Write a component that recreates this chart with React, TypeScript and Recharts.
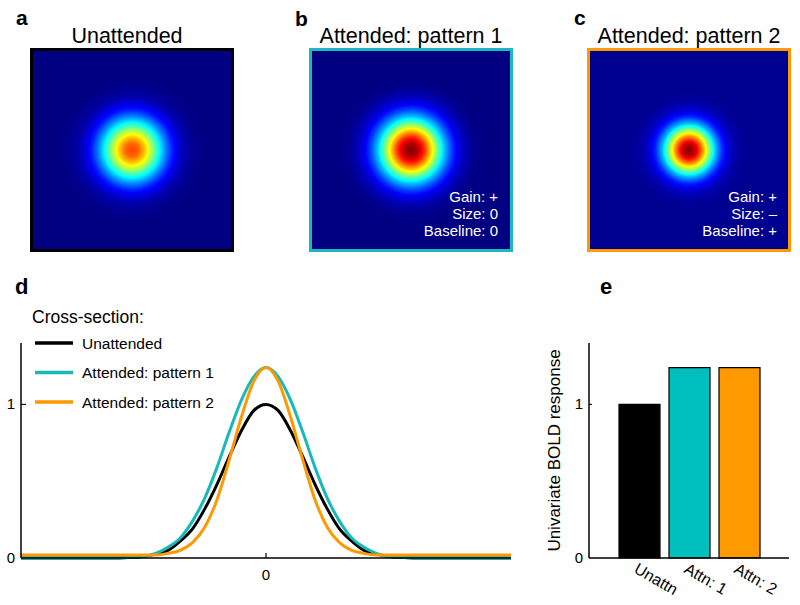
import {
  Bar,
  BarChart,
  Cell,
  ComposedChart,
  Label,
  Legend,
  Line,
  LineChart,
  ReferenceArea,
  XAxis,
  YAxis,
} from 'recharts'

const FONT = '"Liberation Sans", Arial, Helvetica, sans-serif'

// cross-section positions (arbitrary units, 0 = centre of the blob)
const crossX = [-10, -6, -5.5, -5, -4.5, -4, -3.5, -3, -2.5, -2, -1.5, -1, -0.5, 0, 0.5, 1, 1.5, 2, 2.5, 3, 3.5, 4, 4.5, 5, 5.5, 6, 10]
const unattended = [0, 0, 0.004, 0.01, 0.025, 0.05, 0.11, 0.19, 0.32, 0.48, 0.66, 0.83, 0.96, 1.0, 0.96, 0.83, 0.66, 0.48, 0.32, 0.19, 0.11, 0.05, 0.025, 0.01, 0.004, 0, 0]
const pattern1 = [0, 0, 0.005, 0.01, 0.03, 0.07, 0.13, 0.24, 0.39, 0.59, 0.82, 1.03, 1.18, 1.24, 1.18, 1.03, 0.82, 0.59, 0.39, 0.24, 0.13, 0.07, 0.03, 0.01, 0.005, 0, 0]
const pattern2 = [0.02, 0.02, 0.02, 0.02, 0.02, 0.03, 0.05, 0.1, 0.2, 0.38, 0.64, 0.92, 1.15, 1.24, 1.15, 0.92, 0.64, 0.38, 0.2, 0.1, 0.05, 0.03, 0.02, 0.02, 0.02, 0.02, 0.02]

const seriesNames = ['Unattended', 'Attended: pattern 1', 'Attended: pattern 2']
const seriesColors = ['#000000', '#17b9b9', '#ff9900']

const barNames = ['Unattn', 'Attn: 1', 'Attn: 2']
const barValues = [1.0, 1.24, 1.24]
const barColors = ['#000000', '#00bfbf', '#ff9900']

const yTicks = [0, 1]
const xTicks = [0]

const crossRows = crossX.map((x, i) => ({
  x,
  unattended: unattended[i],
  pattern1: pattern1[i],
  pattern2: pattern2[i],
}))

const barRows = barNames.map((name, i) => ({ name, value: barValues[i] }))

// heat-map half width, in the same units as crossX
const HALF = 7.5
const CMAX = 1.24

function jet(t: number): string {
  const c = (v: number) => Math.round(255 * Math.max(0, Math.min(1, v)))
  const r = c(Math.min(4 * t - 1.5, -4 * t + 4.5))
  const g = c(Math.min(4 * t - 0.5, -4 * t + 3.5))
  const b = c(Math.min(4 * t + 0.5, -4 * t + 2.5))
  return `rgb(${r},${g},${b})`
}

function valueAt(vals: number[], r: number): number {
  for (let i = 0; i < crossX.length - 1; i++) {
    const a = crossX[i]
    const b = crossX[i + 1]
    if (r >= a && r <= b) {
      const f = (r - a) / (b - a)
      return vals[i] + f * (vals[i + 1] - vals[i])
    }
  }
  return vals[vals.length - 1]
}

function blobStops(vals: number[]) {
  const n = 150
  const out: { offset: number; color: string }[] = []
  for (let i = 0; i <= n; i++) {
    out.push({ offset: i / n, color: jet(valueAt(vals, (HALF * i) / n) / CMAX) })
  }
  return out
}

function BlobPanel({ id, vals, border, left }: { id: string; vals: number[]; border: string; left: number }) {
  const stops = blobStops(vals)
  return (
    <div style={{ position: 'absolute', left, top: 44 }}>
      <ComposedChart
        width={212}
        height={212}
        data={crossRows}
        margin={{ top: 5.5, right: 5.5, bottom: 5.5, left: 5.5 }}
      >
        <defs>
          <radialGradient id={id} cx="50%" cy="50%" r="50%">
            {stops.map((s, i) => (
              <stop key={i} offset={s.offset} stopColor={s.color} />
            ))}
          </radialGradient>
        </defs>
        <XAxis type="number" dataKey="x" domain={[-HALF, HALF]} allowDataOverflow hide />
        <YAxis type="number" domain={[-HALF, HALF]} allowDataOverflow hide />
        <ReferenceArea
          x1={-HALF}
          x2={HALF}
          y1={-HALF}
          y2={HALF}
          fill={`url(#${id})`}
          fillOpacity={1}
          stroke={border}
          strokeWidth={3}
          ifOverflow="visible"
        />
      </ComposedChart>
    </div>
  )
}

function YTick(props: any) {
  const { x, y, payload, len } = props
  return (
    <g>
      {payload.value !== 0 && <line x1={x} x2={x + len} y1={y} y2={y} stroke="#000" strokeWidth={1.2} />}
      <text x={x - 6} y={y + 5} textAnchor="end" fontSize={15} fontFamily={FONT} fill="#000">
        {payload.value}
      </text>
    </g>
  )
}

function XTick(props: any) {
  const { x, y, payload } = props
  return (
    <g>
      <line x1={x} x2={x} y1={y} y2={y - 5} stroke="#000" strokeWidth={1.2} />
      <text x={x} y={y + 22} textAnchor="middle" fontSize={15} fontFamily={FONT} fill="#000">
        {payload.value}
      </text>
    </g>
  )
}

function BarTick(props: any) {
  const { x, y, payload } = props
  const ax = x - 6
  const ay = y + 14
  return (
    <text
      x={ax}
      y={ay}
      transform={`rotate(30 ${ax} ${ay})`}
      fontSize={16}
      fontFamily={FONT}
      fill="#000"
    >
      {payload.value}
    </text>
  )
}

function CrossLegend(props: any) {
  const items = [...(props.payload || [])].sort(
    (a: any, b: any) => seriesNames.indexOf(a.value) - seriesNames.indexOf(b.value),
  )
  return (
    <svg width={260} height={130} style={{ overflow: 'visible' }}>
      <text x={32} y={33} fontSize={17.5} fontFamily={FONT} fill="#000">
        Cross-section:
      </text>
      {items.map((it: any, i: number) => {
        const ly = 53 + i * 29.5
        return (
          <g key={i}>
            <line x1={35} x2={73} y1={ly} y2={ly} stroke={it.color} strokeWidth={3.5} />
            <text x={82} y={ly + 5.5} fontSize={15.5} fontFamily={FONT} fill="#000">
              {it.value}
            </text>
          </g>
        )
      })}
    </svg>
  )
}

function Annotations() {
  const letter = { fontSize: 21, fontWeight: 700, fontFamily: FONT, fill: '#000' }
  const title = { fontSize: 21.5, fontFamily: FONT, fill: '#000', textAnchor: 'middle' as const }
  const inner = { fontSize: 15, fontFamily: FONT, fill: '#fff', textAnchor: 'end' as const }
  return (
    <svg
      width={800}
      height={605}
      style={{ position: 'absolute', left: 0, top: 0, pointerEvents: 'none' }}
    >
      <text x={16} y={25} {...letter}>a</text>
      <text x={295} y={26} {...letter}>b</text>
      <text x={574} y={25} {...letter}>c</text>
      <text x={15} y={294} fontSize={22} fontWeight={700} fontFamily={FONT}>d</text>
      <text x={600} y={294} fontSize={22} fontWeight={700} fontFamily={FONT}>e</text>

      <text x={127} y={43} {...title}>Unattended</text>
      <text x={411} y={43} {...title}>Attended: pattern 1</text>
      <text x={689} y={43} {...title}>Attended: pattern 2</text>

      <text x={498} y={202} {...inner}>Gain: +</text>
      <text x={498} y={219} {...inner}>Size: 0</text>
      <text x={498} y={236} {...inner}>Baseline: 0</text>

      <text x={777} y={202} {...inner}>Gain: +</text>
      <text x={777} y={219} {...inner}>Size: –</text>
      <text x={777} y={236} {...inner}>Baseline: +</text>
    </svg>
  )
}

export default function App() {
  const keys = ['unattended', 'pattern1', 'pattern2']
  return (
    <div
      style={{
        position: 'absolute',
        left: 0,
        top: 0,
        width: 800,
        height: 605,
        background: '#fff',
        overflow: 'hidden',
        fontFamily: FONT,
      }}
    >
      <BlobPanel id="blobA" vals={unattended} border="#000000" left={26} />
      <BlobPanel id="blobB" vals={pattern1} border="#1cb8bf" left={305} />
      <BlobPanel id="blobC" vals={pattern2} border="#ff9900" left={583} />

      <div style={{ position: 'absolute', left: 0, top: 290 }}>
        <LineChart
          width={520}
          height={300}
          data={crossRows}
          margin={{ top: 53, right: 9, bottom: 0, left: 0 }}
        >
          <XAxis
            type="number"
            dataKey="x"
            domain={[-10, 10]}
            ticks={xTicks}
            height={32}
            tickSize={0}
            tickMargin={0}
            tickLine={false}
            tick={<XTick />}
            axisLine={{ stroke: '#000', strokeWidth: 1.5 }}
          />
          <YAxis
            type="number"
            domain={[0, 1.4]}
            ticks={yTicks}
            width={21}
            tickSize={0}
            tickMargin={0}
            tickLine={false}
            tick={<YTick len={5} />}
            axisLine={{ stroke: '#000', strokeWidth: 1.5 }}
          />
          <Legend
            layout="vertical"
            align="center"
            verticalAlign="middle"
            wrapperStyle={{ left: 0, top: 0, width: 260, height: 130 }}
            content={<CrossLegend />}
          />
          {keys.map((k, i) => (
            <Line
              key={k}
              dataKey={k}
              name={seriesNames[i]}
              type="monotone"
              stroke={seriesColors[i]}
              strokeWidth={3}
              dot={false}
              isAnimationActive={false}
            />
          ))}
        </LineChart>
      </div>

      <div style={{ position: 'absolute', left: 540, top: 330 }}>
        <BarChart
          width={260}
          height={275}
          data={barRows}
          margin={{ top: 13, right: 11, bottom: 0, left: 0 }}
          barSize={41}
        >
          <XAxis
            dataKey="name"
            padding={{ left: 25, right: 25 }}
            height={47}
            interval={0}
            tickSize={0}
            tickMargin={0}
            tickLine={false}
            tick={<BarTick />}
            axisLine={{ stroke: '#000', strokeWidth: 1.5 }}
          />
          <YAxis
            type="number"
            domain={[0, 1.4]}
            ticks={yTicks}
            width={49}
            tickSize={0}
            tickMargin={0}
            tickLine={false}
            tick={<YTick len={3} />}
            axisLine={{ stroke: '#000', strokeWidth: 1.5 }}
          >
            <Label
              content={(p: any) => {
                const vb = p.viewBox || { x: 0, y: 13, width: 49, height: 215 }
                const lx = vb.x + 20
                const ly = vb.y + vb.height / 2
                return (
                  <text
                    x={lx}
                    y={ly}
                    transform={`rotate(-90 ${lx} ${ly})`}
                    textAnchor="middle"
                    fontSize={17}
                    fontFamily={FONT}
                    fill="#000"
                  >
                    Univariate BOLD response
                  </text>
                )
              }}
            />
          </YAxis>
          <Bar dataKey="value" stroke="#000" strokeWidth={1.2} isAnimationActive={false}>
            {barRows.map((r, i) => (
              <Cell key={r.name} fill={barColors[i]} />
            ))}
          </Bar>
        </BarChart>
      </div>

      <Annotations />
    </div>
  )
}
